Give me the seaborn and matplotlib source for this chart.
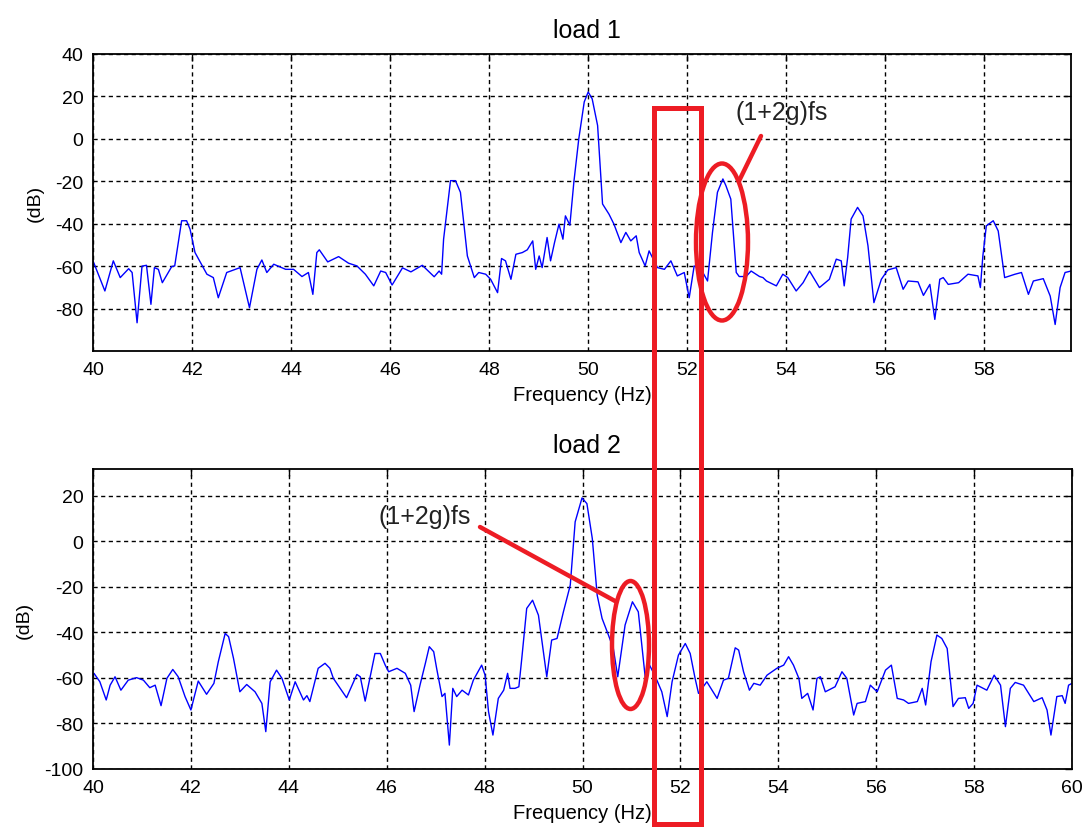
import matplotlib
matplotlib.use("Agg")
import matplotlib.pyplot as plt
import pandas as pd
import seaborn as sns
from matplotlib.patches import Rectangle, Ellipse
from matplotlib.lines import Line2D

# ---------------- data ----------------
load1_freq = [40.00, 40.24, 40.41, 40.55, 40.72, 40.79, 40.89, 40.99, 41.08, 41.17,
              41.24, 41.32, 41.40, 41.59, 41.65, 41.79, 41.89, 41.96, 42.06, 42.30,
              42.43, 42.53, 42.70, 42.97, 43.16, 43.31, 43.41, 43.51, 43.65, 43.89,
              44.05, 44.22, 44.35, 44.44, 44.52, 44.57, 44.74, 44.96, 45.16, 45.33,
              45.50, 45.67, 45.81, 45.91, 46.04, 46.25, 46.42, 46.65, 46.89, 46.99,
              47.04, 47.08, 47.22, 47.32, 47.42, 47.56, 47.70, 47.79, 47.93, 48.03,
              48.17, 48.25, 48.33, 48.44, 48.54, 48.67, 48.77, 48.88, 48.94, 49.01,
              49.07, 49.17, 49.24, 49.32, 49.41, 49.49, 49.54, 49.63, 49.71, 49.81,
              49.92, 50.00, 50.08, 50.19, 50.29, 50.42, 50.52, 50.66, 50.76, 50.86,
              50.97, 51.03, 51.15, 51.23, 51.40, 51.54, 51.67, 51.80, 51.94, 52.04,
              52.14, 52.28, 52.41, 52.51, 52.61, 52.72, 52.78, 52.88, 52.99, 53.05,
              53.19, 53.29, 53.46, 53.53, 53.60, 53.80, 53.93, 54.03, 54.20, 54.34,
              54.47, 54.67, 54.87, 55.01, 55.11, 55.17, 55.24, 55.31, 55.44, 55.55,
              55.65, 55.77, 55.92, 56.05, 56.22, 56.36, 56.46, 56.66, 56.77, 56.90,
              57.00, 57.10, 57.17, 57.27, 57.48, 57.67, 57.87, 57.92, 57.97, 58.04,
              58.18, 58.28, 58.41, 58.62, 58.75, 58.89, 58.99, 59.19, 59.33, 59.43,
              59.53, 59.63, 59.75]
load1_db = [-57.5, -71.7, -57.5, -65.4, -61.2, -63.0, -86.7, -60.0, -59.6, -78.0,
            -60.7, -61.5, -67.8, -60.2, -59.9, -38.6, -38.6, -42.6, -53.6, -63.8,
            -65.4, -74.9, -63.0, -60.7, -79.6, -61.5, -57.1, -63.0, -59.1, -61.5,
            -61.5, -64.9, -63.0, -73.3, -53.6, -52.3, -58.0, -55.5, -58.6, -59.9,
            -63.8, -69.3, -62.3, -63.0, -68.9, -60.8, -62.7, -59.6, -65.0, -62.3,
            -63.8, -47.3, -19.7, -19.7, -25.2, -55.2, -65.4, -63.0, -63.8, -66.2,
            -72.5, -56.4, -57.5, -66.2, -54.4, -53.6, -52.3, -48.1, -61.5, -55.2,
            -60.7, -46.5, -57.5, -48.9, -40.2, -47.3, -36.3, -40.7, -20.5, 0.0,
            17.4, 22.1, 18.9, 6.3, -30.7, -35.5, -40.2, -48.9, -44.1, -48.1,
            -45.7, -53.6, -59.9, -52.8, -60.7, -61.5, -57.5, -64.6, -63.0, -74.9,
            -59.9, -61.5, -67.0, -44.1, -25.2, -18.9, -22.0, -28.4, -63.0, -64.9,
            -64.9, -62.3, -64.9, -65.4, -67.0, -69.3, -63.8, -65.4, -71.7, -67.8,
            -62.3, -70.1, -66.2, -56.7, -57.5, -69.3, -55.9, -37.8, -32.3, -36.3,
            -50.4, -77.2, -66.2, -61.8, -60.7, -70.9, -67.0, -67.4, -73.8, -68.6,
            -85.1, -66.2, -65.4, -68.6, -67.8, -63.8, -64.6, -70.1, -55.2, -41.0,
            -38.6, -43.4, -65.4, -63.8, -63.0, -73.3, -67.0, -65.9, -74.1, -87.5,
            -70.1, -63.0, -62.3]

load2_freq = [40.02, 40.14, 40.27, 40.35, 40.45, 40.57, 40.72, 40.89, 41.03, 41.16,
              41.27, 41.39, 41.51, 41.63, 41.74, 41.88, 42.00, 42.15, 42.32, 42.47,
              42.56, 42.70, 42.77, 42.87, 43.00, 43.14, 43.31, 43.45, 43.53, 43.62,
              43.75, 43.86, 44.01, 44.13, 44.30, 44.37, 44.43, 44.60, 44.74, 44.84,
              44.91, 45.18, 45.39, 45.46, 45.56, 45.76, 45.87, 45.97, 46.04, 46.21,
              46.38, 46.49, 46.56, 46.68, 46.79, 46.87, 46.96, 47.02, 47.13, 47.19,
              47.28, 47.35, 47.43, 47.54, 47.67, 47.77, 47.94, 48.01, 48.08, 48.17,
              48.28, 48.39, 48.47, 48.52, 48.62, 48.70, 48.76, 48.86, 48.98, 49.10,
              49.27, 49.37, 49.48, 49.61, 49.75, 49.85, 49.99, 50.09, 50.20, 50.30,
              50.40, 50.53, 50.63, 50.72, 50.87, 51.02, 51.14, 51.28, 51.37, 51.49,
              51.62, 51.73, 51.83, 51.96, 52.10, 52.20, 52.30, 52.37, 52.54, 52.75,
              52.88, 52.98, 53.12, 53.19, 53.29, 53.41, 53.50, 53.63, 53.77, 53.97,
              54.11, 54.21, 54.31, 54.42, 54.48, 54.60, 54.71, 54.79, 54.86, 54.96,
              55.16, 55.30, 55.40, 55.54, 55.61, 55.78, 55.88, 56.02, 56.19, 56.31,
              56.43, 56.56, 56.66, 56.84, 56.94, 57.01, 57.12, 57.24, 57.34, 57.45,
              57.57, 57.68, 57.82, 57.89, 57.98, 58.06, 58.26, 58.41, 58.54, 58.64,
              58.74, 58.84, 59.01, 59.22, 59.39, 59.49, 59.57, 59.69, 59.80, 59.86,
              59.93, 60.00]
load2_db = [-58.0, -61.7, -69.7, -63.2, -59.5, -65.4, -61.0, -59.9, -61.0, -64.3,
            -63.2, -72.2, -60.2, -56.3, -59.5, -68.2, -74.1, -61.4, -67.2, -62.4,
            -52.9, -40.5, -41.9, -51.4, -66.1, -62.9, -66.1, -71.2, -83.6, -61.7,
            -56.6, -60.2, -69.7, -61.7, -69.7, -67.8, -70.4, -55.8, -53.6, -55.8,
            -60.2, -68.7, -58.5, -59.5, -70.2, -49.3, -49.3, -54.4, -57.3, -55.8,
            -58.0, -63.2, -74.8, -63.2, -53.6, -46.3, -48.5, -55.8, -68.2, -66.8,
            -89.5, -64.6, -68.2, -65.4, -67.5, -61.0, -54.4, -58.8, -74.8, -85.1,
            -69.0, -65.4, -58.0, -64.6, -64.6, -63.9, -51.4, -29.5, -25.9, -32.5,
            -59.5, -43.4, -42.7, -31.0, -19.3, 8.5, 19.0, 16.5, 1.2, -23.7,
            -33.9, -41.2, -47.1, -59.5, -36.8, -26.6, -31.0, -59.5, -54.4, -59.5,
            -66.1, -77.0, -61.7, -50.0, -44.9, -49.3, -60.2, -66.8, -61.7, -69.0,
            -61.0, -60.2, -46.8, -47.8, -57.3, -65.4, -62.4, -63.2, -58.8, -55.8,
            -54.4, -50.7, -54.4, -60.2, -69.0, -66.8, -74.1, -60.2, -59.5, -66.1,
            -63.9, -57.3, -60.2, -76.3, -71.2, -70.4, -63.2, -66.1, -56.6, -54.4,
            -69.0, -69.7, -71.2, -70.4, -64.6, -71.9, -52.9, -41.2, -42.7, -47.1,
            -72.6, -69.0, -68.7, -73.4, -71.2, -63.2, -65.4, -58.8, -63.2, -81.4,
            -64.6, -62.0, -63.2, -70.4, -68.7, -74.1, -85.1, -68.2, -67.8, -71.2,
            -63.2, -62.4]

xticks1 = [40, 42, 44, 46, 48, 50, 52, 54, 56, 58]
xticks2 = [40, 42, 44, 46, 48, 50, 52, 54, 56, 58, 60]
yticks1 = [-80, -60, -40, -20, 0, 20, 40]
yticks2 = [-100, -80, -60, -40, -20, 0, 20]
titles = ["load 1", "load 2"]
xlabel_text = "Frequency (Hz)"
ylabel_text = "(dB)"
annot_text = "(1+2g)fs"

# ---------------- style ----------------
sns.set_theme(style="white")
plt.rcParams['font.family'] = ['Liberation Sans', 'DejaVu Sans']

W, H = 1085, 829
fig = plt.figure(figsize=(W / 100, H / 100), dpi=100)
fig.patch.set_facecolor("white")

ax1 = fig.add_axes([93 / W, 1 - 352 / H, (1071 - 93) / W, (352 - 55) / H])
ax2 = fig.add_axes([93 / W, 1 - 770 / H, (1072 - 93) / W, (770 - 470) / H])

df1 = pd.DataFrame({"freq": load1_freq, "db": load1_db})
df2 = pd.DataFrame({"freq": load2_freq, "db": load2_db})

sns.lineplot(data=df1, x="freq", y="db", ax=ax1, color="#0000ff", linewidth=1.0, estimator=None)
sns.lineplot(data=df2, x="freq", y="db", ax=ax2, color="#0000ff", linewidth=1.0, estimator=None)


def style(ax, xlim, ylim, xt, yt, title, title_pad):
    ax.set_xlim(*xlim)
    ax.set_ylim(*ylim)
    ax.set_xticks(xt)
    ax.set_yticks(yt)
    ax.set_xticklabels([str(v) for v in xt])
    ax.set_yticklabels([str(v) for v in yt])
    ax.grid(True, color="black", linestyle=(0, (3.0, 2.5)), linewidth=1.0)
    ax.tick_params(direction="in", length=5, width=1, top=True, right=True,
                   labelsize=14, colors="black", pad=7)
    for s in ax.spines.values():
        s.set_visible(True)
        s.set_color("black")
        s.set_linewidth(1.3)
    ax.set_title(title, fontsize=18, pad=12, color="black")
    ax.set_xlabel(xlabel_text, fontsize=14.5, labelpad=5, color="black")
    ax.set_ylabel(ylabel_text, fontsize=14, labelpad=8, color="black")


style(ax1, (40, 59.75), (-100, 40), xticks1, yticks1, titles[0], 12)
style(ax2, (40, 60), (-100, 31.7), xticks2, yticks2, titles[1], 9)
ax1.title.set_x(0.505)
ax2.title.set_x(0.505)

# ---------------- red hand-drawn annotations (figure pixel positions) ----------------
red = "#ed1c24"


def fx(x):
    return x / W


def fy(y):
    return 1 - y / H


fig.add_artist(Rectangle((fx(653.5), fy(825)), (700.5 - 653.5) / W, (825 - 109) / H,
                         fill=False, edgecolor=red, linewidth=3.6,
                         transform=fig.transFigure))
fig.add_artist(Ellipse((fx(722), fy(243)), 52 / W, 157 / H, fill=False,
                       edgecolor=red, linewidth=3.2, transform=fig.transFigure))
fig.add_artist(Ellipse((fx(630.5), fy(646)), 37 / W, 128 / H, fill=False,
                       edgecolor=red, linewidth=3.2, transform=fig.transFigure))
fig.add_artist(Line2D([fx(761), fx(739)], [fy(137), fy(182)], color=red,
                      linewidth=3.2, transform=fig.transFigure))
fig.add_artist(Line2D([fx(480), fx(615)], [fy(528), fy(602)], color=red,
                      linewidth=3.2, transform=fig.transFigure))

fig.text(fx(782), fy(113), annot_text, fontsize=18, ha="center", va="center", color="#222222")
fig.text(fx(425), fy(517), annot_text, fontsize=18, ha="center", va="center", color="#222222")

fig.savefig("out.png", dpi=100, facecolor="white")
